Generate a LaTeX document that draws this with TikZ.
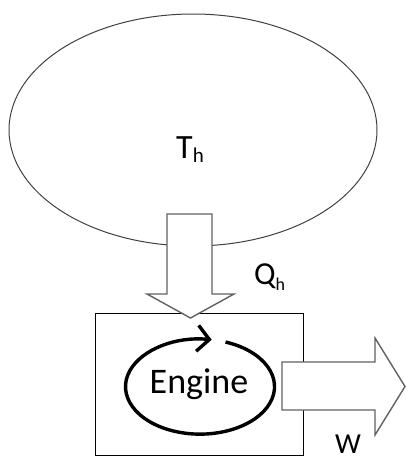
\documentclass[tikz,border=0pt]{standalone}
\usepackage{fontspec}
\setmainfont{Carlito}
\usetikzlibrary{shapes.geometric,arrows.meta}
\tikzset{
  reservoir/.style={draw=black!75, line width=1pt, ellipse, inner sep=0pt, minimum width=368pt, minimum height=232pt},
  enginebox/.style={draw=black, line width=1pt, inner sep=0pt, minimum width=208pt, minimum height=142pt},
  blockarrow/.style={draw=black!62, line width=1.4pt, fill=white, line join=miter},
  cyclearrow/.style={draw=black, line width=3.4pt, -{Straight Barb[length=12pt,width=26pt,line width=3.4pt]}},
  lbl/.style={inner sep=0pt, anchor=base west}
}
\begin{document}
\begin{tikzpicture}[x=1pt,y=-1pt]
\useasboundingbox (0,0) rectangle (406,461);
\node[reservoir] (hot) at (193,130) {};
\node[enginebox] (eng) at (199,384) {};
% heat flow arrow
\draw[blockarrow] (167,214) -- (212,214) -- (212,294) -- (234,294) -- (190.5,318) -- (147,294) -- (167,294) -- cycle;
% work arrow
\draw[blockarrow] (282,362) -- (375,362) -- (375,338) -- (405,386.5) -- (375,435) -- (375,410) -- (282,410) -- cycle;
% cycle
\draw[cyclearrow] (225.5,342) arc[start angle=70, end angle=-279, x radius=74.5pt, y radius=47.5pt];
\node[lbl, font=\fontsize{36}{40}\selectfont] (engtxt) at (149.5,393) {Engine};
\node[lbl, font=\fontsize{34}{40}\selectfont] (th) at (176,158) {T\raisebox{-4.5pt}{\fontsize{21}{24}\selectfont h}};
\node[lbl, font=\fontsize{32}{40}\selectfont] (qh) at (254,284) {Q\raisebox{-6pt}{\fontsize{18}{22}\selectfont h}};
\node[lbl, font=\fontsize{29}{34}\selectfont] (w) at (335,453) {W};
\end{tikzpicture}
\end{document}
